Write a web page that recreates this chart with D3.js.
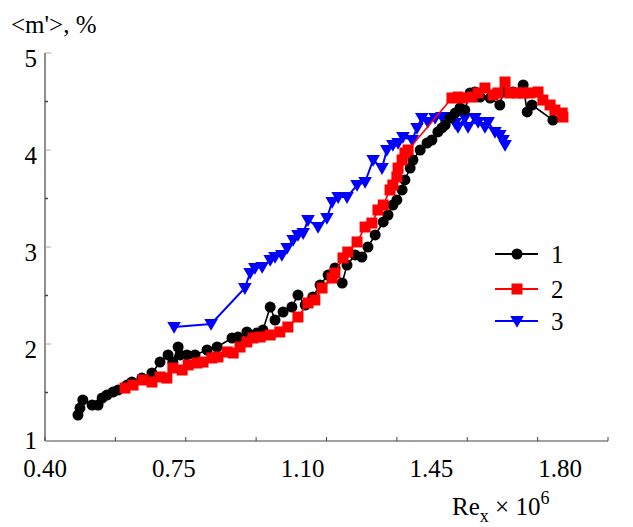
<!DOCTYPE html>
<html>
<head>
<meta charset="utf-8">
<script src="https://cdn.jsdelivr.net/npm/d3@7"></script>
<style>
  html, body { margin: 0; padding: 0; background: #fff; }
  svg { display: block; }
</style>
</head>
<body>
<svg id="chart" width="633" height="527"></svg>
<script>
// Series 1 (black circles)
const re1 = [0.482,0.487,0.494,0.517,0.532,0.542,0.554,0.569,0.582,0.604,0.616,0.641,0.666,0.686,0.706,0.718,0.731,0.736,0.753,0.773,0.803,0.828,0.865,0.880,0.902,0.927,0.942,0.960,0.972,0.992,1.014,1.029,1.047,1.066,1.084,1.104,1.121,1.139,1.151,1.171,1.188,1.203,1.221,1.241,1.253,1.265,1.275,1.288,1.295,1.308,1.315,1.333,1.350,1.362,1.377,1.387,1.395,1.407,1.420,1.432,1.444,1.457,1.469,1.482,1.507,1.531,1.539,1.564,1.589,1.599,1.611,1.663];
const m1  = [1.268,1.340,1.423,1.371,1.371,1.443,1.474,1.505,1.526,1.577,1.608,1.649,1.701,1.814,1.887,1.814,1.969,1.887,1.887,1.887,1.938,1.969,2.062,2.072,2.124,2.113,2.144,2.381,2.247,2.330,2.381,2.505,2.402,2.485,2.608,2.711,2.784,2.629,2.814,2.918,2.897,3.000,3.124,3.258,3.330,3.433,3.485,3.588,3.691,3.814,3.897,4.000,4.072,4.103,4.186,4.227,4.258,4.330,4.381,4.433,4.412,4.588,4.598,4.546,4.536,4.464,4.598,4.598,4.670,4.392,4.464,4.309];

// Series 2 (red squares)
const re2 = [0.599,0.619,0.644,0.666,0.686,0.703,0.718,0.741,0.756,0.778,0.793,0.815,0.830,0.853,0.868,0.885,0.902,0.917,0.935,0.960,0.984,1.004,1.029,1.054,1.071,1.089,1.114,1.121,1.141,1.153,1.176,1.196,1.213,1.228,1.241,1.258,1.265,1.275,1.278,1.288,1.295,1.303,1.412,1.427,1.439,1.462,1.477,1.494,1.514,1.526,1.544,1.556,1.574,1.589,1.606,1.626,1.638,1.656,1.668,1.686,1.688];
const m2  = [1.546,1.577,1.629,1.608,1.660,1.649,1.753,1.732,1.784,1.804,1.814,1.856,1.866,1.918,1.907,1.969,2.021,2.062,2.072,2.093,2.124,2.175,2.278,2.423,2.454,2.577,2.680,2.732,2.887,2.948,3.052,3.206,3.247,3.381,3.433,3.588,3.639,3.722,3.814,3.897,3.969,4.000,4.536,4.546,4.536,4.546,4.588,4.639,4.567,4.588,4.701,4.588,4.588,4.588,4.588,4.598,4.515,4.464,4.412,4.381,4.340];

// Series 3 (blue down-triangles)
const re3 = [0.721,0.813,0.897,0.910,0.922,0.940,0.960,0.972,0.989,1.002,1.017,1.029,1.042,1.054,1.079,1.101,1.114,1.129,1.151,1.176,1.196,1.216,1.238,1.250,1.265,1.278,1.290,1.313,1.325,1.337,1.352,1.370,1.387,1.400,1.420,1.427,1.444,1.452,1.469,1.477,1.494,1.502,1.519,1.531,1.539,1.544];
const m3  = [2.175,2.206,2.577,2.732,2.784,2.794,2.866,2.897,2.918,2.990,3.072,3.124,3.144,3.278,3.206,3.299,3.464,3.515,3.515,3.639,3.670,3.897,3.814,4.000,4.052,4.072,4.134,4.103,4.227,4.330,4.289,4.330,4.340,4.340,4.278,4.237,4.330,4.237,4.330,4.289,4.237,4.289,4.186,4.155,4.103,4.052];

const xTickLabels = ["0.40", "0.75", "1.10", "1.45", "1.80"];
const yTicks = [1, 2, 3, 4, 5];
const seriesNames = ["1", "2", "3"];

const svg = d3.select("#chart");
const plotL = 45, plotR = 608, plotT = 53, plotB = 441;

const x = d3.scaleLinear().domain([0.40, 1.80]).range([plotL, plotR]);
const y = d3.scaleLinear().domain([1, 5]).range([plotB, plotT]);
// tick labels are spread evenly along a slightly shorter span
const xLab = d3.scaleLinear().domain([0, xTickLabels.length - 1]).range([45, 560]);

const FS = 25;
const FONT = "Liberation Serif";

// axes
const axisColor = "#444";
svg.append("line").attr("x1", plotL).attr("x2", plotL).attr("y1", plotT).attr("y2", plotB)
  .attr("stroke", axisColor).attr("stroke-width", 1.2);
svg.append("line").attr("x1", plotL).attr("x2", plotR).attr("y1", plotB).attr("y2", plotB)
  .attr("stroke", axisColor).attr("stroke-width", 1.2);

// x ticks every 0.175, pointing inward
const xMinor = d3.range(0, 9).map(i => 0.40 + i * 0.175);
svg.selectAll(".xt").data(xMinor).join("line")
  .attr("x1", d => x(d)).attr("x2", d => x(d))
  .attr("y1", plotB).attr("y2", plotB - 4)
  .attr("stroke", axisColor).attr("stroke-width", 1);

// y ticks: integers (light) and halves (dark)
svg.selectAll(".yt").data(yTicks).join("line")
  .attr("x1", plotL).attr("x2", plotL + 6)
  .attr("y1", d => y(d)).attr("y2", d => y(d))
  .attr("stroke", "#aaa").attr("stroke-width", 1);
svg.selectAll(".ym").data([1.5, 2.5, 3.5, 4.5]).join("line")
  .attr("x1", plotL).attr("x2", plotL + 3)
  .attr("y1", d => y(d)).attr("y2", d => y(d))
  .attr("stroke", axisColor).attr("stroke-width", 1.5);

svg.selectAll(".yl").data(yTicks).join("text")
  .attr("x", 37).attr("y", d => y(d) + (d === 1 ? 8 : 14))
  .attr("text-anchor", "end").attr("font-size", FS).attr("font-family", FONT)
  .text(d => d);

svg.selectAll(".xl").data(xTickLabels).join("text")
  .attr("x", (d, i) => xLab(i)).attr("y", 477)
  .attr("text-anchor", "middle").attr("font-size", FS).attr("font-family", FONT)
  .text(d => d);

// axis titles
svg.append("text").attr("x", 11).attr("y", 33).attr("font-size", FS).attr("font-family", FONT)
  .text("<m'>, %");
const xt = svg.append("text").attr("x", 452).attr("y", 515).attr("font-size", FS).attr("font-family", FONT);
xt.append("tspan").text("Re");
xt.append("tspan").attr("dy", 7).attr("font-size", 18).text("x");
xt.append("tspan").attr("dy", -7).text(" \u00d7 10");
xt.append("tspan").attr("dy", -11).attr("font-size", 18).text("6");

// series
const line = d3.line().x(d => x(d[0])).y(d => y(d[1]));
const tri = d3.symbol().type(d3.symbolTriangle).size(80);

function drawSeries(re, m, color, width, kind) {
  const pts = re.map((r, i) => [r, m[i]]);
  const g = svg.append("g");
  g.append("path").datum(pts).attr("d", line)
    .attr("fill", "none").attr("stroke", color).attr("stroke-width", width);
  drawMarkers(g, pts.map(p => [x(p[0]), y(p[1])]), color, kind);
}

function drawMarkers(g, xy, color, kind) {
  if (kind === "circle") {
    g.selectAll("circle").data(xy).join("circle")
      .attr("cx", d => d[0]).attr("cy", d => d[1]).attr("r", 5.5).attr("fill", color);
  } else if (kind === "square") {
    g.selectAll("rect").data(xy).join("rect")
      .attr("x", d => d[0] - 5.5).attr("y", d => d[1] - 5.5)
      .attr("width", 11).attr("height", 11).attr("fill", color);
  } else {
    g.selectAll("path.m").data(xy).join("path").attr("class", "m")
      .attr("d", tri)
      .attr("transform", d => `translate(${d[0]},${d[1] - 1}) rotate(180)`)
      .attr("fill", color);
  }
}

drawSeries(re3, m3, "#0000ff", 2, "tri");
drawSeries(re1, m1, "#000000", 1.6, "circle");
drawSeries(re2, m2, "#ff0000", 1.6, "square");

// legend
const legendRows = [
  { name: seriesNames[0], color: "#000000", kind: "circle", cy: 254 },
  { name: seriesNames[1], color: "#ff0000", kind: "square", cy: 289 },
  { name: seriesNames[2], color: "#0000ff", kind: "tri", cy: 321 }
];
legendRows.forEach(r => {
  const g = svg.append("g");
  g.append("line").attr("x1", 495).attr("x2", 538).attr("y1", r.cy).attr("y2", r.cy)
    .attr("stroke", r.color).attr("stroke-width", 2);
  drawMarkers(g, [[517, r.cy]], r.color, r.kind);
  g.append("text").attr("x", 551).attr("y", r.cy + 9).attr("font-size", FS).attr("font-family", FONT)
    .text(r.name);
});
</script>
</body>
</html>
